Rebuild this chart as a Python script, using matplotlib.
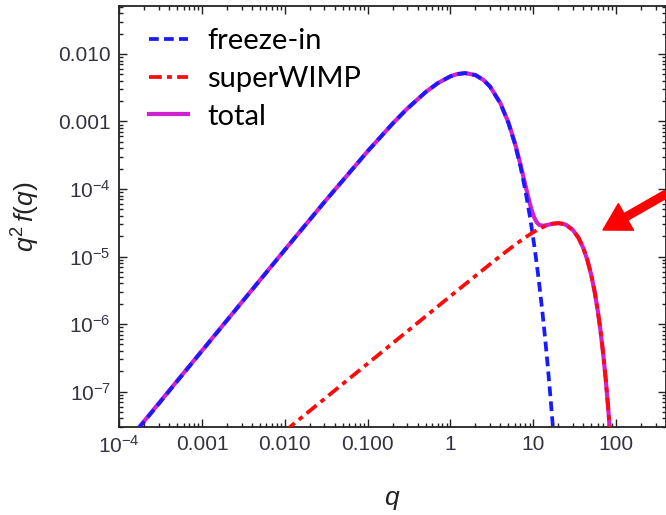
import matplotlib
matplotlib.use('Agg')
import matplotlib.pyplot as plt
import matplotlib.ticker as mticker

# values (q, q^2 f(q))
q_freeze = [1e-4, 1e-3, 1e-2, 0.03, 0.1, 0.2, 0.3, 0.5, 0.7, 1.0, 1.2, 1.5, 2.0, 2.5, 3, 4, 5, 6,
            7, 8, 9, 9.5, 10, 10.5, 11, 11.5, 12, 13, 14, 15, 16, 17, 18]
f_freeze = [1.27e-8, 4.02e-7, 1.257e-5, 6.40e-5, 3.63e-4, 9.30e-4, 1.546e-3, 2.72e-3, 3.69e-3,
            4.67e-3, 5.03e-3, 5.21e-3, 4.86e-3, 4.12e-3, 3.29e-3, 1.86e-3, 9.57e-4, 4.63e-4,
            2.14e-4, 9.64e-5, 4.23e-5, 2.78e-5, 1.82e-5, 1.19e-5, 7.74e-6, 5.02e-6, 3.24e-6,
            1.35e-6, 5.53e-7, 2.26e-7, 9.1e-8, 3.69e-8, 1.48e-8]

q_super = [0.01, 0.1, 1.0, 2.0, 3, 4, 5, 6, 7, 8, 9, 9.5, 10, 10.5, 11, 11.5, 12, 13, 14, 15, 17,
           20, 23, 25, 30, 35, 40, 45, 50, 55, 60, 65, 70, 75, 80, 85, 90]
f_super = [2.6e-8, 2.6e-7, 2.6e-6, 5.17e-6, 7.71e-6, 1.019e-5, 1.259e-5, 1.49e-5, 1.71e-5,
           1.917e-5, 2.11e-5, 2.202e-5, 2.289e-5, 2.372e-5, 2.451e-5, 2.526e-5, 2.597e-5,
           2.723e-5, 2.835e-5, 2.927e-5, 3.058e-5, 3.122e-5, 3.046e-5, 2.929e-5, 2.475e-5,
           1.908e-5, 1.351e-5, 8.84e-6, 5.36e-6, 3.02e-6, 1.58e-6, 7.72e-7, 3.51e-7, 1.49e-7,
           5.92e-8, 2.2e-8, 7.6e-9]

q_total = [1e-4, 1e-3, 1e-2, 0.03, 0.1, 0.2, 0.3, 0.5, 0.7, 1.0, 1.2, 1.5, 2.0, 2.5, 3, 4, 5, 6,
           7, 8, 9, 9.5, 10, 10.5, 11, 11.5, 12, 13, 14, 15, 17, 20, 23, 25, 30, 35, 40, 45, 50,
           55, 60, 65, 70, 75, 80, 85, 90]
f_total = [1.30e-8, 4.05e-7, 1.26e-5, 6.41e-5, 3.63e-4, 9.31e-4, 1.547e-3, 2.72e-3, 3.69e-3,
           4.67e-3, 5.03e-3, 5.21e-3, 4.87e-3, 4.12e-3, 3.30e-3, 1.87e-3, 9.70e-4, 4.78e-4,
           2.31e-4, 1.156e-4, 6.34e-5, 4.98e-5, 4.11e-5, 3.56e-5, 3.22e-5, 3.03e-5, 2.92e-5,
           2.86e-5, 2.89e-5, 2.95e-5, 3.06e-5, 3.12e-5, 3.05e-5, 2.93e-5, 2.48e-5, 1.91e-5,
           1.35e-5, 8.84e-6, 5.36e-6, 3.02e-6, 1.58e-6, 7.72e-7, 3.51e-7, 1.49e-7, 5.92e-8,
           2.2e-8, 7.6e-9]

x_ticks = [1e-4, 1e-3, 1e-2, 1e-1, 1, 10, 100]
x_labels = ['$10^{-4}$', '0.001', '0.010', '0.100', '1', '10', '100']
y_ticks = [1e-7, 1e-6, 1e-5, 1e-4, 1e-3, 1e-2]
y_labels = ['$10^{-7}$', '$10^{-6}$', '$10^{-5}$', '$10^{-4}$', '0.001', '0.010']

plt.rcParams['mathtext.fontset'] = 'custom'
plt.rcParams['mathtext.rm'] = 'Liberation Sans'
plt.rcParams['mathtext.it'] = 'Liberation Sans:italic'
plt.rcParams['font.family'] = 'Liberation Sans'

fig = plt.figure(figsize=(6.66, 5.15), dpi=100)
ax = fig.add_axes([0.179, 0.171, 0.821, 0.817])

l_tot, = ax.plot(q_total, f_total, color='#d020d0', lw=3.0, label='total', zorder=2)
l_fi, = ax.plot(q_freeze, f_freeze, color='#1a1aff', lw=2.7, ls=(0, (2.6, 1.4)),
                label='freeze-in', zorder=3)
l_sw, = ax.plot(q_super, f_super, color='#ff0a0a', lw=2.7, ls=(0, (3.4, 1.4, 1.3, 1.4)),
                label='superWIMP', zorder=3)

ax.set_xscale('log')
ax.set_yscale('log')
ax.set_xlim(1e-4, 400)
ax.set_ylim(3.0e-8, 0.051)

ax.xaxis.set_major_locator(mticker.FixedLocator(x_ticks))
ax.xaxis.set_major_formatter(mticker.FixedFormatter(x_labels))
ax.yaxis.set_major_locator(mticker.FixedLocator(y_ticks))
ax.yaxis.set_major_formatter(mticker.FixedFormatter(y_labels))
ax.xaxis.set_minor_locator(mticker.LogLocator(base=10, subs=range(2, 10), numticks=20))
ax.yaxis.set_minor_locator(mticker.LogLocator(base=10, subs=range(2, 10), numticks=20))
ax.xaxis.set_minor_formatter(mticker.NullFormatter())
ax.yaxis.set_minor_formatter(mticker.NullFormatter())

ax.tick_params(which='both', direction='in', top=True, right=True, width=1.0,
               color='#222222')
ax.tick_params(which='major', length=5.5, labelsize=15, labelcolor='#333340', pad=6)
ax.tick_params(which='minor', length=2.8)
for s in ax.spines.values():
    s.set_linewidth(1.3)
    s.set_color('#222222')

ax.set_xlabel('$q$', fontsize=19, labelpad=22, color='#222222')
ax.set_ylabel('$q^2\\,f(q)$', fontsize=19, labelpad=12, color='#222222')

ax.legend(handles=[l_fi, l_sw, l_tot], loc='upper left', frameon=False,
          prop={'family': 'Lato', 'size': 21}, handlelength=1.35, handletextpad=0.65,
          labelspacing=0.4, borderaxespad=0.0, bbox_to_anchor=(0.033, 0.975))

# red pointer arrow from the slide
ax.annotate('', xy=(603 / 666, 1 - 230 / 515), xycoords='figure fraction',
            xytext=(1.0, 1 - 194 / 515), textcoords='figure fraction',
            arrowprops=dict(arrowstyle='simple,head_length=1.9,head_width=2.2,tail_width=0.55',
                            color='#ff0000', mutation_scale=10, shrinkA=0, shrinkB=0),
            annotation_clip=False)

plt.savefig('out.png', dpi=100)
